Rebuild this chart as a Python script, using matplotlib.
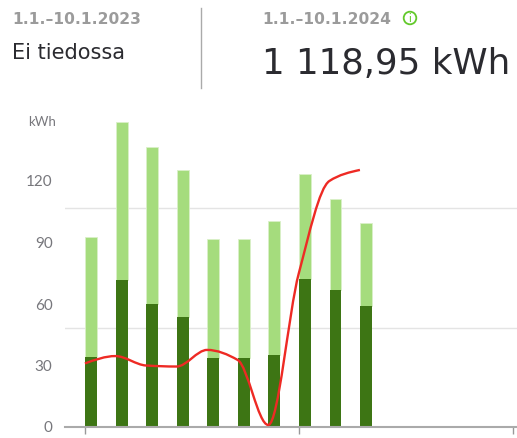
import numpy as np
import matplotlib
matplotlib.use('Agg')
import matplotlib.pyplot as plt
from matplotlib.path import Path
from matplotlib.patches import PathPatch, Circle

days = [1, 2, 3, 4, 5, 6, 7, 8, 9, 10]
dark = [34.1, 71.9, 60.1, 53.8, 33.8, 33.7, 35.3, 72.3, 67.0, 58.9]
total = [92.5, 148.6, 136.7, 125.4, 91.9, 91.7, 100.5, 123.4, 111.4, 99.5]
light = [t - d for t, d in zip(total, dark)]
temp_x = [0.8, 1.8, 2.8, 3.8, 4.8, 5.8, 6.8, 7.8, 8.8, 9.8]
temp = [31.0, 34.6, 30.0, 29.5, 37.6, 32.7, 1.0, 75.0, 120.0, 125.4]
y_ticks = [0, 30, 60, 90, 120]
grid_lines = [48.3, 106.8]
x_ticks = [0.8, 7.8, 14.8]

W, H = 517, 438
plt.rcParams['font.family'] = ['Lato', 'DejaVu Sans']
fig = plt.figure(figsize=(W / 100, H / 100), dpi=100)

# chart area, pixel box
ax = fig.add_axes([65 / W, (H - 427) / H, (W - 65) / W, 327 / H])
ax.set_xlim(0.149, 14.94)
ax.set_ylim(0, 327 / 2.05)
ax.patch.set_alpha(0)

for s in ['top', 'right', 'left']:
    ax.spines[s].set_visible(False)
ax.spines['bottom'].set_color('#aaaaaa')
ax.spines['bottom'].set_linewidth(1.5)

ax.set_yticks(grid_lines, minor=True)
ax.grid(True, axis='y', which='minor', color='#e4e4e4', lw=1)
ax.tick_params(axis='y', which='minor', length=0)
ax.set_yticks(y_ticks)
ax.tick_params(axis='y', which='major', length=0, pad=9, labelsize=11, labelcolor='#77777c')
ax.set_xticks(x_ticks)
ax.set_xticklabels([])
ax.tick_params(axis='x', length=5, width=1, color='#999999')
ax.set_axisbelow(True)

ax.bar(days, light, bottom=dark, width=0.39, color='#a5dc7d', edgecolor='#daf0c8', linewidth=0.6, zorder=2)
ax.bar(days, dark, width=0.39, color='#3d7514', edgecolor='none', zorder=2.5)

# monotone curve through the readings
tx = np.array(temp_x)
ty = np.array(temp)
h = np.diff(tx)
s = np.diff(ty) / h
m = np.zeros(len(ty))
for i in range(1, len(ty) - 1):
    if s[i - 1] * s[i] > 0:
        m[i] = 2 * s[i - 1] * s[i] / (s[i - 1] + s[i])
m[0] = (3 * s[0] - m[1]) / 2
m[-1] = (3 * s[-1] - m[-2]) / 2
verts = [(tx[0], ty[0])]
codes = [Path.MOVETO]
for i in range(len(h)):
    verts += [(tx[i] + h[i] / 3, ty[i] + m[i] * h[i] / 3),
              (tx[i + 1] - h[i] / 3, ty[i + 1] - m[i + 1] * h[i] / 3),
              (tx[i + 1], ty[i + 1])]
    codes += [Path.CURVE4] * 3
ax.add_patch(PathPatch(Path(verts, codes), fill=False, edgecolor='#ee2a24', lw=1.7, zorder=3))

# header and small bits, drawn in pixel coordinates
top = fig.add_axes([0, 0, 1, 1])
top.set_xlim(0, W)
top.set_ylim(H, 0)
top.axis('off')
top.patch.set_alpha(0)

head = ['DejaVu Sans']
top.text(12, 19, '1.1.–10.1.2023', fontsize=11.2, fontweight='bold', family=head, color='#9b9b9b', va='center', ha='left')
top.text(262, 19, '1.1.–10.1.2024', fontsize=11.2, fontweight='bold', family=head, color='#9b9b9b', va='center', ha='left')
top.text(12, 53, 'Ei tiedossa', fontsize=15, family=head, color='#2b2b30', va='center', ha='left')
top.text(262, 64, '1 118,95 kWh', fontsize=25.7, family=head, color='#2b2b30', va='center', ha='left')
top.plot([200.5, 200.5], [8, 88], color='#aaaaaa', lw=1)
top.add_patch(Circle((410, 18), 6.3, fill=False, edgecolor='#62c92a', lw=1.3))
top.text(410, 18, 'i', fontsize=8, color='#62c92a', ha='center', va='center')
top.text(56, 122, 'kWh', fontsize=9.5, color='#77777c', ha='right', va='center')

fig.savefig('out.png', dpi=100)
